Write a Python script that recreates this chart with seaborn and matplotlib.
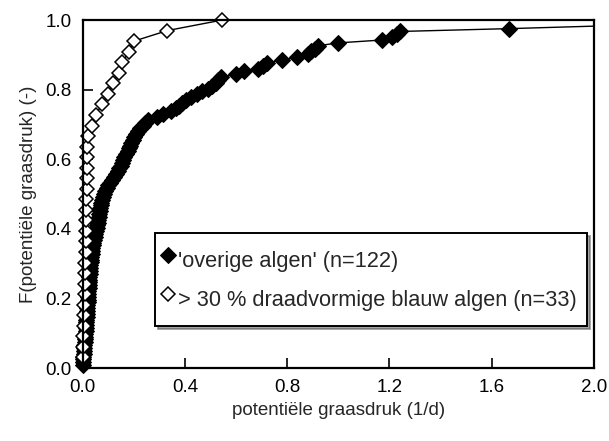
import numpy as np
import pandas as pd
import matplotlib
matplotlib.use('Agg')
import matplotlib.pyplot as plt
from matplotlib.patches import Rectangle
import seaborn as sns

sns.set_style('ticks')
plt.rcParams['font.family'] = ['Liberation Sans', 'DejaVu Sans']

# potentiele graasdruk (1/d), gesorteerd
overige = [
    0.000, 0.001, 0.002, 0.002, 0.003, 0.004, 0.005, 0.006, 0.007, 0.008, 0.009, 0.010,
    0.011, 0.012, 0.012, 0.013, 0.014, 0.015, 0.016, 0.016, 0.017, 0.018, 0.019, 0.020,
    0.021, 0.021, 0.022, 0.023, 0.024, 0.024, 0.025, 0.026, 0.027, 0.028, 0.029, 0.030, 0.031,
    0.032, 0.033, 0.034, 0.035, 0.037, 0.038, 0.040,
    0.043, 0.046, 0.048, 0.051, 0.054,
    0.056, 0.058, 0.060, 0.062, 0.064, 0.066,
    0.068, 0.070, 0.072, 0.075, 0.078,
    0.082, 0.088, 0.093, 0.098, 0.105,
    0.115, 0.122, 0.130, 0.137,
    0.142, 0.148, 0.153, 0.157, 0.163,
    0.170, 0.175, 0.180, 0.186, 0.190,
    0.196, 0.202, 0.208, 0.215, 0.225,
    0.235, 0.245, 0.254,
    0.290, 0.315, 0.345, 0.365, 0.375, 0.390, 0.405, 0.425,
    0.445, 0.465, 0.490, 0.505, 0.520, 0.530, 0.540,
    0.600, 0.630, 0.685, 0.705, 0.720, 0.780, 0.837, 0.880, 0.895, 0.910, 0.920,
    1.000, 1.170, 1.210, 1.230, 1.240, 1.670, 2.050, 2.600, 3.000,
]
draadvormig = [
    0.000, 0.001, 0.002, 0.003, 0.004, 0.005,
    0.008, 0.009, 0.010, 0.010, 0.011, 0.012, 0.012, 0.013, 0.014, 0.014,
    0.015, 0.015, 0.016, 0.017, 0.018,
    0.020, 0.035, 0.050, 0.075, 0.100, 0.120, 0.140, 0.155, 0.180, 0.200,
    0.330, 0.545,
]

lab_overig = "'overige algen' (n=122)"
lab_draad = "> 30 % draadvormige blauw algen (n=33)"

# cumulatieve frequentie F = rang / n
df1 = pd.DataFrame({'x': overige, 'F': np.arange(1, len(overige) + 1) / len(overige)})
df2 = pd.DataFrame({'x': draadvormig, 'F': np.arange(1, len(draadvormig) + 1) / len(draadvormig)})

fig = plt.figure(figsize=(6.09, 4.41), dpi=100)
ax = fig.add_axes([0.136, 0.1655, 0.839, 0.789])

sns.lineplot(data=df1, x='x', y='F', estimator=None, sort=False, ax=ax,
             color='black', lw=1, marker='D', markersize=8.5,
             markerfacecolor='black', markeredgecolor='black', label=lab_overig)
sns.lineplot(data=df2, x='x', y='F', estimator=None, sort=False, ax=ax,
             color='black', lw=1, marker='D', markersize=7,
             markerfacecolor='white', markeredgecolor='black', markeredgewidth=1.1,
             label=lab_draad)

# markers op x=0 steken iets buiten de y-as uit, zoals in het origineel
clip = Rectangle((-0.04, -0.03), 1.04, 1.06, transform=ax.transAxes, facecolor='none')
for ln in ax.lines:
    ln.set_clip_path(clip)

ax.set_xlim(0, 2.0)
ax.set_ylim(0, 1.0)
ax.set_xticks(np.arange(0, 2.01, 0.4))
ax.set_yticks(np.arange(0, 1.01, 0.2))
ax.xaxis.set_major_formatter(matplotlib.ticker.FormatStrFormatter('%.1f'))
ax.yaxis.set_major_formatter(matplotlib.ticker.FormatStrFormatter('%.1f'))
ax.tick_params(direction='in', length=7, width=1.2, labelsize=13.5, pad=8, colors='black')
for s in ax.spines.values():
    s.set_color('black')
    s.set_linewidth(1.6)

ax.set_xlabel('potentiële graasdruk (1/d)', fontsize=13.5, labelpad=4)
ax.set_ylabel('F(potentiële graasdruk) (-)', fontsize=13.5, labelpad=6)

leg = ax.legend(loc='upper left', bbox_to_anchor=(0.141, 0.388), frameon=True,
                fancybox=False, shadow=True, edgecolor='black', framealpha=1,
                fontsize=15.7, handlelength=0.2, handleheight=1.9, handletextpad=0.35,
                borderpad=0.5, labelspacing=0.3, borderaxespad=0)
leg.get_frame().set_linewidth(1.4)

fig.savefig('out.png', dpi=100)
